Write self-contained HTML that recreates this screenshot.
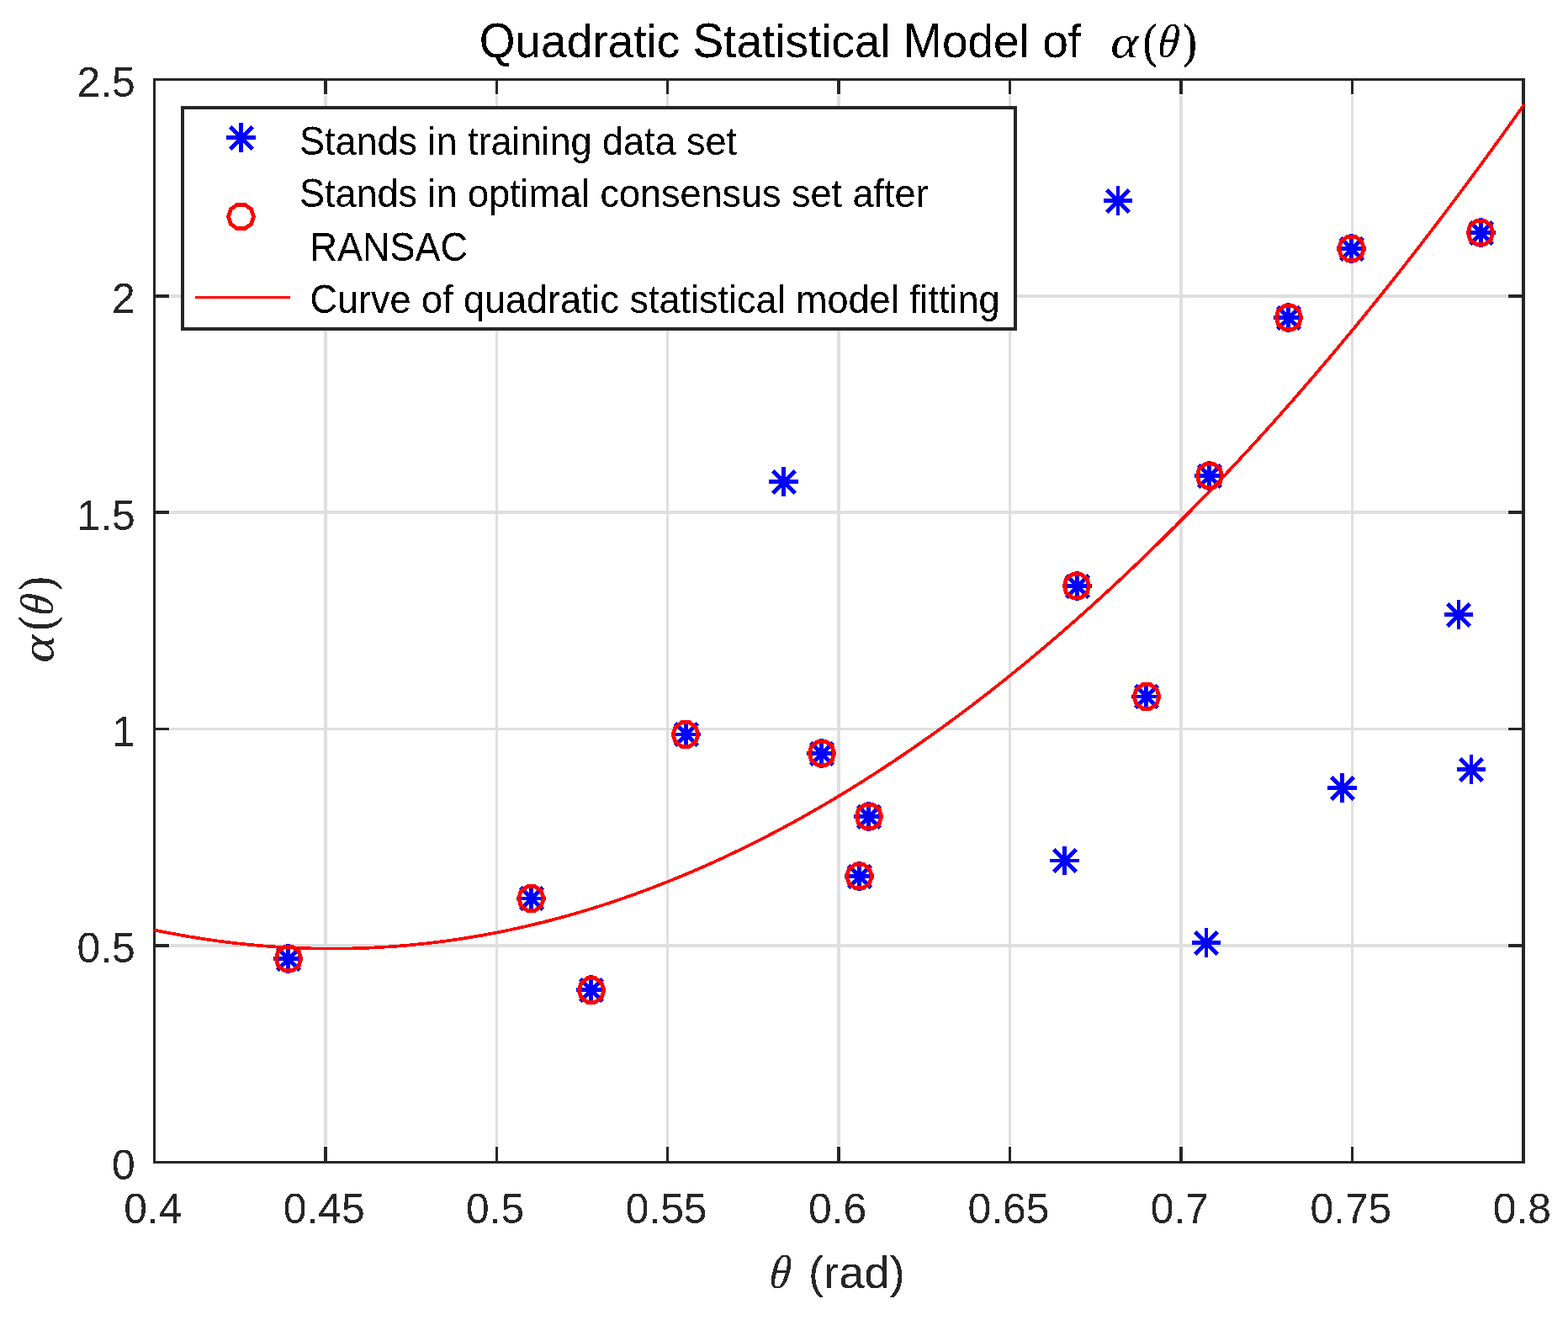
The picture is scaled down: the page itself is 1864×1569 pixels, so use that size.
<!DOCTYPE html>
<html lang="en"><head><meta charset="utf-8"><title>Quadratic Statistical Model</title>
<style>
html,body{margin:0;padding:0;background:#fff;}
body{width:1864px;height:1569px;overflow:hidden;}
svg{display:block;}
text{font-family:"Liberation Sans",sans-serif;}
.tk{font-size:49.8px;fill:#262626;}
.lg{font-size:45px;fill:#000;}
.ti{font-size:55px;fill:#000;}
.lb{font-size:55px;fill:#262626;}
.mi{font-family:"Liberation Serif",serif;font-style:italic;}
.mr{font-family:"Liberation Serif",serif;font-style:normal;}
.cr{shape-rendering:crispEdges;}
</style></head><body>
<svg width="1864" height="1569" viewBox="0 0 1864 1569" role="img" aria-label="Quadratic Statistical Model of alpha(theta)">
<defs><filter id="bw" x="-5%" y="-5%" width="110%" height="110%" color-interpolation-filters="sRGB"><feComponentTransfer><feFuncA type="linear" slope="1" intercept="0.040"/></feComponentTransfer><feComponentTransfer><feFuncA type="discrete" tableValues="0 1"/></feComponentTransfer></filter><filter id="bw2" x="-5%" y="-5%" width="110%" height="110%" color-interpolation-filters="sRGB"><feComponentTransfer><feFuncA type="linear" slope="1" intercept="0.010"/></feComponentTransfer><feComponentTransfer><feFuncA type="discrete" tableValues="0 1"/></feComponentTransfer></filter></defs>
<rect x="0" y="0" width="1864" height="1569" fill="#fff"/>
<g class="cr" fill="#dfdfdf">
<rect x="385" y="113" width="4" height="1249"/>
<rect x="589" y="113" width="3" height="1249"/>
<rect x="792" y="113" width="3" height="1249"/>
<rect x="995" y="113" width="4" height="1249"/>
<rect x="1199" y="113" width="3" height="1249"/>
<rect x="1402" y="113" width="4" height="1249"/>
<rect x="1606" y="113" width="3" height="1249"/>
<rect x="202" y="1122" width="1590" height="4"/>
<rect x="202" y="865" width="1590" height="3"/>
<rect x="202" y="607" width="1590" height="4"/>
<rect x="202" y="350" width="1590" height="4"/>
</g>
<g class="cr" fill="#262626">
<rect x="385" y="1363" width="4" height="17"/>
<rect x="385" y="96" width="4" height="16"/>
<rect x="589" y="1363" width="3" height="17"/>
<rect x="589" y="96" width="3" height="16"/>
<rect x="792" y="1363" width="3" height="17"/>
<rect x="792" y="96" width="3" height="16"/>
<rect x="995" y="1363" width="4" height="17"/>
<rect x="995" y="96" width="4" height="16"/>
<rect x="1199" y="1363" width="3" height="17"/>
<rect x="1199" y="96" width="3" height="16"/>
<rect x="1402" y="1363" width="4" height="17"/>
<rect x="1402" y="96" width="4" height="16"/>
<rect x="1606" y="1363" width="3" height="17"/>
<rect x="1606" y="96" width="3" height="16"/>
<rect x="185" y="1122" width="16" height="4"/>
<rect x="1793" y="1122" width="16" height="4"/>
<rect x="185" y="865" width="16" height="3"/>
<rect x="1793" y="865" width="16" height="3"/>
<rect x="185" y="607" width="16" height="4"/>
<rect x="1793" y="607" width="16" height="4"/>
<rect x="185" y="350" width="16" height="4"/>
<rect x="1793" y="350" width="16" height="4"/>
<rect x="182" y="93" width="1631" height="3"/>
<rect x="182" y="1380" width="1631" height="3"/>
<rect x="182" y="93" width="3" height="1290"/>
<rect x="1809" y="93" width="4" height="1290"/>
</g>
<g class="cr" stroke="#0000ff" stroke-width="4.7" fill="none" stroke-linecap="butt">
<path d="M914.20 572.50H948.80M931.50 555.20V589.80M918.80 559.80L945.20 586.20M918.80 586.20L945.20 559.80"/>
<path d="M1311.70 238.50H1346.30M1329.00 221.20V255.80M1315.80 225.80L1342.20 252.20M1315.80 252.20L1342.20 225.80"/>
<path d="M1248.20 1023.00H1282.80M1265.50 1005.70V1040.30M1252.80 1009.80L1279.20 1036.20M1252.80 1036.20L1279.20 1009.80"/>
<path d="M1416.70 1120.50H1451.30M1434.00 1103.20V1137.80M1420.80 1107.80L1447.20 1134.20M1420.80 1134.20L1447.20 1107.80"/>
<path d="M1578.20 936.50H1612.80M1595.50 919.20V953.80M1582.80 923.80L1609.20 950.20M1582.80 950.20L1609.20 923.80"/>
<path d="M1716.70 730.50H1751.30M1734.00 713.20V747.80M1720.80 717.80L1747.20 744.20M1720.80 744.20L1747.20 717.80"/>
<path d="M1731.70 914.50H1766.30M1749.00 897.20V931.80M1735.80 901.80L1762.20 928.20M1735.80 928.20L1762.20 901.80"/>
<path d="M325.20 1139.50H359.80M342.50 1122.20V1156.80M329.80 1126.80L356.20 1153.20M329.80 1153.20L356.20 1126.80"/>
<path d="M614.20 1068.00H648.80M631.50 1050.70V1085.30M618.80 1054.80L645.20 1081.20M618.80 1081.20L645.20 1054.80"/>
<path d="M685.20 1176.50H719.80M702.50 1159.20V1193.80M689.80 1163.80L716.20 1190.20M689.80 1190.20L716.20 1163.80"/>
<path d="M798.20 873.00H832.80M815.50 855.70V890.30M802.80 859.80L829.20 886.20M802.80 886.20L829.20 859.80"/>
<path d="M959.20 895.50H993.80M976.50 878.20V912.80M963.80 882.80L990.20 909.20M963.80 909.20L990.20 882.80"/>
<path d="M1004.20 1041.50H1038.80M1021.50 1024.20V1058.80M1008.80 1028.80L1035.20 1055.20M1008.80 1055.20L1035.20 1028.80"/>
<path d="M1015.20 970.50H1049.80M1032.50 953.20V987.80M1019.80 957.80L1046.20 984.20M1019.80 984.20L1046.20 957.80"/>
<path d="M1263.20 696.50H1297.80M1280.50 679.20V713.80M1267.80 683.80L1294.20 710.20M1267.80 710.20L1294.20 683.80"/>
<path d="M1345.20 828.00H1379.80M1362.50 810.70V845.30M1349.80 814.80L1376.20 841.20M1349.80 841.20L1376.20 814.80"/>
<path d="M1420.20 565.50H1454.80M1437.50 548.20V582.80M1424.80 552.80L1451.20 579.20M1424.80 579.20L1451.20 552.80"/>
<path d="M1514.20 377.50H1548.80M1531.50 360.20V394.80M1518.80 364.80L1545.20 391.20M1518.80 391.20L1545.20 364.80"/>
<path d="M1589.20 295.50H1623.80M1606.50 278.20V312.80M1593.80 282.80L1620.20 309.20M1593.80 309.20L1620.20 282.80"/>
<path d="M1743.20 276.50H1777.80M1760.50 259.20V293.80M1747.80 263.80L1774.20 290.20M1747.80 290.20L1774.20 263.80"/>
</g>
<g class="cr" fill="#ff0000" stroke="none">
<path fill-rule="evenodd" d="M360.45 1139.50L357.12 1149.76L348.39 1156.10L337.61 1156.10L328.88 1149.76L325.55 1139.50L328.88 1129.24L337.61 1122.90L348.39 1122.90L357.12 1129.24zM353.07 1132.18L346.85 1127.66L339.15 1127.66L332.93 1132.18L330.55 1139.50L332.93 1146.82L339.15 1151.34L346.85 1151.34L353.07 1146.82L355.45 1139.50z"/>
<path fill-rule="evenodd" d="M648.95 1068.00L645.62 1078.26L636.89 1084.60L626.11 1084.60L617.38 1078.26L614.05 1068.00L617.38 1057.74L626.11 1051.40L636.89 1051.40L645.62 1057.74zM641.57 1060.68L635.35 1056.16L627.65 1056.16L621.43 1060.68L619.05 1068.00L621.43 1075.32L627.65 1079.84L635.35 1079.84L641.57 1075.32L643.95 1068.00z"/>
<path fill-rule="evenodd" d="M720.45 1177.00L717.12 1187.26L708.39 1193.60L697.61 1193.60L688.88 1187.26L685.55 1177.00L688.88 1166.74L697.61 1160.40L708.39 1160.40L717.12 1166.74zM713.07 1169.68L706.85 1165.16L699.15 1165.16L692.93 1169.68L690.55 1177.00L692.93 1184.32L699.15 1188.84L706.85 1188.84L713.07 1184.32L715.45 1177.00z"/>
<path fill-rule="evenodd" d="M832.45 873.00L829.12 883.26L820.39 889.60L809.61 889.60L800.88 883.26L797.55 873.00L800.88 862.74L809.61 856.40L820.39 856.40L829.12 862.74zM825.07 865.68L818.85 861.16L811.15 861.16L804.93 865.68L802.55 873.00L804.93 880.32L811.15 884.84L818.85 884.84L825.07 880.32L827.45 873.00z"/>
<path fill-rule="evenodd" d="M994.45 895.50L991.12 905.76L982.39 912.10L971.61 912.10L962.88 905.76L959.55 895.50L962.88 885.24L971.61 878.90L982.39 878.90L991.12 885.24zM987.07 888.18L980.85 883.66L973.15 883.66L966.93 888.18L964.55 895.50L966.93 902.82L973.15 907.34L980.85 907.34L987.07 902.82L989.45 895.50z"/>
<path fill-rule="evenodd" d="M1038.95 1041.50L1035.62 1051.76L1026.89 1058.10L1016.11 1058.10L1007.38 1051.76L1004.05 1041.50L1007.38 1031.24L1016.11 1024.90L1026.89 1024.90L1035.62 1031.24zM1031.57 1034.18L1025.35 1029.66L1017.65 1029.66L1011.43 1034.18L1009.05 1041.50L1011.43 1048.82L1017.65 1053.34L1025.35 1053.34L1031.57 1048.82L1033.95 1041.50z"/>
<path fill-rule="evenodd" d="M1050.45 970.50L1047.12 980.76L1038.39 987.10L1027.61 987.10L1018.88 980.76L1015.55 970.50L1018.88 960.24L1027.61 953.90L1038.39 953.90L1047.12 960.24zM1043.07 963.18L1036.85 958.66L1029.15 958.66L1022.93 963.18L1020.55 970.50L1022.93 977.82L1029.15 982.34L1036.85 982.34L1043.07 977.82L1045.45 970.50z"/>
<path fill-rule="evenodd" d="M1297.45 696.50L1294.12 706.76L1285.39 713.10L1274.61 713.10L1265.88 706.76L1262.55 696.50L1265.88 686.24L1274.61 679.90L1285.39 679.90L1294.12 686.24zM1290.07 689.18L1283.85 684.66L1276.15 684.66L1269.93 689.18L1267.55 696.50L1269.93 703.82L1276.15 708.34L1283.85 708.34L1290.07 703.82L1292.45 696.50z"/>
<path fill-rule="evenodd" d="M1380.45 828.00L1377.12 838.26L1368.39 844.60L1357.61 844.60L1348.88 838.26L1345.55 828.00L1348.88 817.74L1357.61 811.40L1368.39 811.40L1377.12 817.74zM1373.07 820.68L1366.85 816.16L1359.15 816.16L1352.93 820.68L1350.55 828.00L1352.93 835.32L1359.15 839.84L1366.85 839.84L1373.07 835.32L1375.45 828.00z"/>
<path fill-rule="evenodd" d="M1455.45 565.50L1452.12 575.76L1443.39 582.10L1432.61 582.10L1423.88 575.76L1420.55 565.50L1423.88 555.24L1432.61 548.90L1443.39 548.90L1452.12 555.24zM1448.07 558.18L1441.85 553.66L1434.15 553.66L1427.93 558.18L1425.55 565.50L1427.93 572.82L1434.15 577.34L1441.85 577.34L1448.07 572.82L1450.45 565.50z"/>
<path fill-rule="evenodd" d="M1549.45 377.50L1546.12 387.76L1537.39 394.10L1526.61 394.10L1517.88 387.76L1514.55 377.50L1517.88 367.24L1526.61 360.90L1537.39 360.90L1546.12 367.24zM1542.07 370.18L1535.85 365.66L1528.15 365.66L1521.93 370.18L1519.55 377.50L1521.93 384.82L1528.15 389.34L1535.85 389.34L1542.07 384.82L1544.45 377.50z"/>
<path fill-rule="evenodd" d="M1623.95 295.50L1620.62 305.76L1611.89 312.10L1601.11 312.10L1592.38 305.76L1589.05 295.50L1592.38 285.24L1601.11 278.90L1611.89 278.90L1620.62 285.24zM1616.57 288.18L1610.35 283.66L1602.65 283.66L1596.43 288.18L1594.05 295.50L1596.43 302.82L1602.65 307.34L1610.35 307.34L1616.57 302.82L1618.95 295.50z"/>
<path fill-rule="evenodd" d="M1777.45 276.50L1774.12 286.76L1765.39 293.10L1754.61 293.10L1745.88 286.76L1742.55 276.50L1745.88 266.24L1754.61 259.90L1765.39 259.90L1774.12 266.24zM1770.07 269.18L1763.85 264.66L1756.15 264.66L1749.93 269.18L1747.55 276.50L1749.93 283.82L1756.15 288.34L1763.85 288.34L1770.07 283.82L1772.45 276.50z"/>
</g>
<polyline class="cr" points="183.50,1105.42 191.64,1107.10 199.79,1108.72 207.93,1110.27 216.07,1111.76 224.21,1113.17 232.36,1114.52 240.50,1115.81 248.64,1117.03 256.78,1118.18 264.93,1119.27 273.07,1120.29 281.21,1121.24 289.35,1122.13 297.50,1122.96 305.64,1123.71 313.78,1124.40 321.92,1125.02 330.07,1125.58 338.21,1126.07 346.35,1126.50 354.49,1126.85 362.64,1127.15 370.78,1127.37 378.92,1127.53 387.06,1127.62 395.21,1127.65 403.35,1127.61 411.49,1127.51 419.63,1127.34 427.78,1127.10 435.92,1126.79 444.06,1126.42 452.21,1125.99 460.35,1125.48 468.49,1124.92 476.63,1124.28 484.78,1123.58 492.92,1122.81 501.06,1121.98 509.20,1121.08 517.35,1120.11 525.49,1119.08 533.63,1117.98 541.77,1116.81 549.92,1115.58 558.06,1114.29 566.20,1112.92 574.34,1111.49 582.49,1110.00 590.63,1108.43 598.77,1106.80 606.91,1105.11 615.06,1103.35 623.20,1101.52 631.34,1099.63 639.48,1097.67 647.63,1095.64 655.77,1093.55 663.91,1091.39 672.06,1089.17 680.20,1086.88 688.34,1084.52 696.48,1082.09 704.63,1079.60 712.77,1077.05 720.91,1074.43 729.05,1071.74 737.20,1068.98 745.34,1066.16 753.48,1063.28 761.62,1060.32 769.77,1057.30 777.91,1054.22 786.05,1051.06 794.19,1047.85 802.34,1044.56 810.48,1041.21 818.62,1037.79 826.76,1034.31 834.91,1030.76 843.05,1027.15 851.19,1023.46 859.33,1019.72 867.48,1015.90 875.62,1012.02 883.76,1008.07 891.90,1004.06 900.05,999.98 908.19,995.84 916.33,991.62 924.48,987.35 932.62,983.00 940.76,978.59 948.90,974.11 957.05,969.57 965.19,964.96 973.33,960.29 981.47,955.55 989.62,950.74 997.76,945.86 1005.90,940.92 1014.04,935.92 1022.19,930.84 1030.33,925.70 1038.47,920.50 1046.61,915.23 1054.76,909.89 1062.90,904.49 1071.04,899.02 1079.18,893.48 1087.33,887.88 1095.47,882.21 1103.61,876.47 1111.75,870.67 1119.90,864.80 1128.04,858.87 1136.18,852.87 1144.33,846.80 1152.47,840.67 1160.61,834.47 1168.75,828.21 1176.90,821.88 1185.04,815.48 1193.18,809.01 1201.32,802.48 1209.47,795.89 1217.61,789.23 1225.75,782.50 1233.89,775.70 1242.04,768.84 1250.18,761.91 1258.32,754.92 1266.46,747.86 1274.61,740.73 1282.75,733.54 1290.89,726.28 1299.03,718.96 1307.18,711.57 1315.32,704.11 1323.46,696.59 1331.60,689.00 1339.75,681.34 1347.89,673.62 1356.03,665.83 1364.17,657.98 1372.32,650.06 1380.46,642.07 1388.60,634.02 1396.75,625.90 1404.89,617.71 1413.03,609.46 1421.17,601.14 1429.32,592.76 1437.46,584.30 1445.60,575.79 1453.74,567.20 1461.89,558.55 1470.03,549.84 1478.17,541.06 1486.31,532.21 1494.46,523.29 1502.60,514.31 1510.74,505.27 1518.88,496.15 1527.03,486.98 1535.17,477.73 1543.31,468.42 1551.45,459.04 1559.60,449.60 1567.74,440.09 1575.88,430.51 1584.02,420.87 1592.17,411.16 1600.31,401.38 1608.45,391.54 1616.60,381.63 1624.74,371.66 1632.88,361.62 1641.02,351.51 1649.17,341.34 1657.31,331.10 1665.45,320.79 1673.59,310.42 1681.74,299.98 1689.88,289.48 1698.02,278.91 1706.16,268.27 1714.31,257.57 1722.45,246.80 1730.59,235.97 1738.73,225.07 1746.88,214.10 1755.02,203.06 1763.16,191.96 1771.30,180.80 1779.45,169.57 1787.59,158.27 1795.73,146.90 1803.87,135.47 1812.02,123.97" fill="none" stroke="#ff0000" stroke-width="3.7" stroke-linejoin="round"/>
<rect class="cr" x="215" y="126" width="994" height="267" fill="#262626"/>
<rect class="cr" x="219" y="130" width="986" height="259" fill="#fff"/>
<g class="cr" stroke="#0000ff" stroke-width="4.7" fill="none"><path d="M269.20 163.50H303.80M286.50 146.20V180.80M273.80 150.80L300.20 177.20M273.80 177.20L300.20 150.80"/></g>
<g class="cr" fill="#ff0000" stroke="none"><path fill-rule="evenodd" d="M303.95 257.50L300.62 267.76L291.89 274.10L281.11 274.10L272.38 267.76L269.05 257.50L272.38 247.24L281.11 240.90L291.89 240.90L300.62 247.24zM296.57 250.18L290.35 245.66L282.65 245.66L276.43 250.18L274.05 257.50L276.43 264.82L282.65 269.34L290.35 269.34L296.57 264.82L298.95 257.50z"/></g>
<rect class="cr" x="232" y="352" width="113" height="3" fill="#ff0000"/>
<g filter="url(#bw)">
<text class="lg" transform="translate(356,184.3) scale(1,1.03)"><tspan font-size="46.85" textLength="30.01" lengthAdjust="spacingAndGlyphs">S</tspan>tands in training data set</text>
<text class="lg" transform="translate(356,246) scale(1,1.03)"><tspan font-size="46.85" textLength="30.01" lengthAdjust="spacingAndGlyphs">S</tspan>tands in optimal consensus set after</text>
<text class="lg" transform="translate(368.5,309.7) scale(1,1.03)"><tspan font-size="46.85" textLength="187.54" lengthAdjust="spacingAndGlyphs">RANSAC</tspan></text>
<text class="lg" transform="translate(368.5,371.6) scale(1,1.03)"><tspan font-size="46.85" textLength="32.50" lengthAdjust="spacingAndGlyphs">C</tspan>urve of quadratic statistical model fitting</text>
</g>
<g filter="url(#bw2)">
<text class="tk" x="181.80" y="1454" text-anchor="middle">0.4</text>
<text class="tk" x="385.24" y="1454" text-anchor="middle">0.45</text>
<text class="tk" x="588.67" y="1454" text-anchor="middle">0.5</text>
<text class="tk" x="792.11" y="1454" text-anchor="middle">0.55</text>
<text class="tk" x="995.55" y="1454" text-anchor="middle">0.6</text>
<text class="tk" x="1198.99" y="1454" text-anchor="middle">0.65</text>
<text class="tk" x="1402.43" y="1454" text-anchor="middle">0.7</text>
<text class="tk" x="1605.86" y="1454" text-anchor="middle">0.75</text>
<text class="tk" x="1809.30" y="1454" text-anchor="middle">0.8</text>
<text class="tk" x="160.7" y="1401.80" text-anchor="end">0</text>
<text class="tk" x="160.7" y="1144.40" text-anchor="end">0.5</text>
<text class="tk" x="160.7" y="887.00" text-anchor="end">1</text>
<text class="tk" x="160.7" y="629.60" text-anchor="end">1.5</text>
<text class="tk" x="160.7" y="372.20" text-anchor="end">2</text>
<text class="tk" x="160.7" y="114.80" text-anchor="end">2.5</text>
<text class="ti" filter="url(#bw)" x="569.7" y="68"><tspan font-size="57.8" textLength="42.78" lengthAdjust="spacingAndGlyphs">Q</tspan>uadratic <tspan font-size="57.8" textLength="36.68" lengthAdjust="spacingAndGlyphs">S</tspan>tatistical <tspan font-size="57.8" textLength="45.82" lengthAdjust="spacingAndGlyphs">M</tspan>odel of</text>
<g fill="#000" color="#000" transform="translate(1321.8,68.4)"><text class="mi" font-size="54" transform="translate(-1.6,0) scale(1.17,1)" x="0" y="0">α</text><text class="mr" font-size="56.6" stroke-width="0.7" stroke="currentColor" transform="translate(37.1,-0.6) scale(0.85,1)" x="0" y="0">(</text><text class="mi" font-size="56.6" transform="translate(53.3,0) skewX(-5.5) scale(0.91,1)" x="0" y="0">θ</text><text class="mr" font-size="56.6" stroke-width="0.7" stroke="currentColor" transform="translate(84.6,-0.6) scale(0.85,1)" x="0" y="0">)</text></g>
<text class="mi" font-size="56.6" fill="#262626" transform="translate(913.5,1531.2) skewX(-5.5) scale(0.91,1)" x="0" y="0">θ</text>
<text class="lb" style="font-size:54.4px" x="961" y="1530.8">(rad)</text>
<g fill="#262626" color="#262626" transform="translate(63,786.3) rotate(-90)"><text class="mi" font-size="54" transform="translate(-1.6,0) scale(1.17,1)" x="0" y="0">α</text><text class="mr" font-size="56.6" stroke-width="0.7" stroke="currentColor" transform="translate(37.1,-0.6) scale(0.85,1)" x="0" y="0">(</text><text class="mi" font-size="56.6" transform="translate(53.3,0) skewX(-5.5) scale(0.91,1)" x="0" y="0">θ</text><text class="mr" font-size="56.6" stroke-width="0.7" stroke="currentColor" transform="translate(84.6,-0.6) scale(0.85,1)" x="0" y="0">)</text></g>
</g>
</svg>
</body></html>
